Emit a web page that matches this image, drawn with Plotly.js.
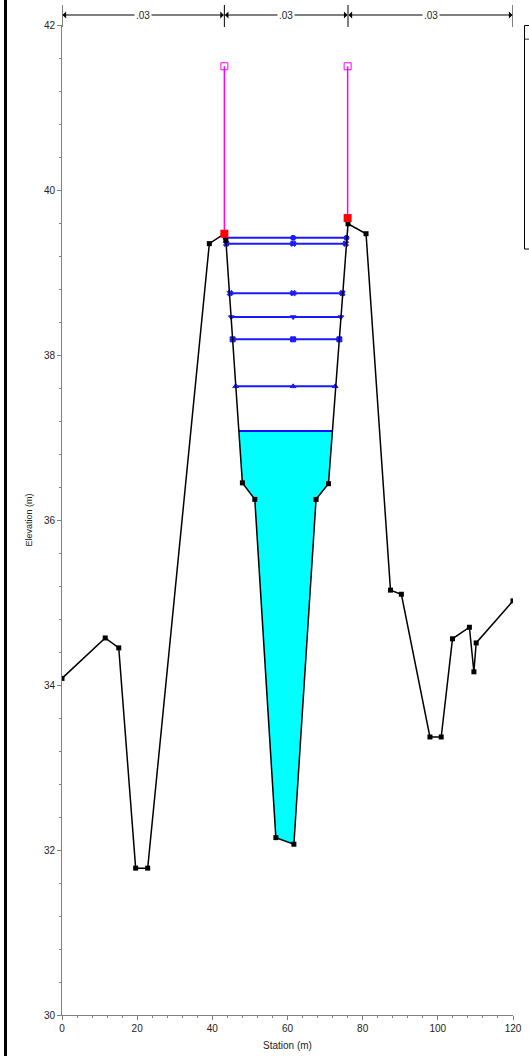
<!DOCTYPE html>
<html>
<head>
<meta charset="utf-8">
<script src="https://cdn.plot.ly/plotly-3.0.1.min.js"></script>
<style>html,body{margin:0;padding:0;background:#fff;}#chart{width:529px;height:1056px;}</style>
</head>
<body>
<div id="chart"></div>
<script>
// Ground profile
const groundStation = [0, 11.5, 15.1, 19.6, 22.8, 39.2, 43.2, 43.6, 48.0, 51.3, 56.9, 61.7, 67.6, 70.9, 76.1, 80.9, 87.4, 90.3, 97.9, 100.9, 103.9, 108.4, 109.6, 110.2, 120];
const groundElev    = [34.08, 34.57, 34.45, 31.78, 31.78, 39.35, 39.47, 39.39, 36.45, 36.25, 32.15, 32.07, 36.25, 36.44, 39.59, 39.47, 35.15, 35.10, 33.37, 33.37, 34.56, 34.70, 34.16, 34.51, 35.02];

// Bank stations
const bankStation = [43.2, 76.0];
const bankElev    = [39.47, 39.66];
const bankTopElev = [41.5, 41.5];

// Water surface profiles (left edge, middle, right edge)
const wsElev   = [39.42, 39.35, 38.75, 38.46, 38.19, 37.62];
const wsLeft   = [43.5, 43.7, 44.7, 45.05, 45.4, 46.2];
const wsMid    = [61.5, 61.5, 61.5, 61.5, 61.5, 61.5];
const wsRight  = [75.7, 75.5, 74.6, 74.2, 73.8, 72.7];
const wsSymbol = ['circle', 'x', 'x', 'triangle-down', 'square', 'triangle-up'];

// Filled water section
const waterStation = [47.1, 48.0, 51.3, 56.9, 61.7, 67.6, 70.9, 71.9, 47.1];
const waterElev    = [37.08, 36.45, 36.25, 32.15, 32.07, 36.25, 36.44, 37.08, 37.08];

// Manning's n
const nBreaks = [0, 43.2, 76.1, 120];
const nLabels = ['.03', '.03', '.03'];

const traces = [];
traces.push({x: waterStation, y: waterElev, mode: 'lines', fill: 'toself', fillcolor: '#00ffff',
  line: {color: 'rgba(0,0,0,0)', width: 0}, hoverinfo: 'skip', showlegend: false});
traces.push({x: [waterStation[0], waterStation[7]], y: [waterElev[0], waterElev[7]], mode: 'lines',
  line: {color: '#1010ff', width: 2}, showlegend: false});
for (let i = 0; i < wsElev.length; i++) {
  traces.push({x: [wsLeft[i], wsMid[i], wsRight[i]], y: [wsElev[i], wsElev[i], wsElev[i]],
    mode: 'lines+markers', line: {color: '#1a1aff', width: 2},
    marker: {symbol: wsSymbol[i], size: 5, color: '#1a1aff', line: {color: '#1a1aff', width: 1}},
    showlegend: false});
}
for (let i = 0; i < bankStation.length; i++) {
  traces.push({x: [bankStation[i], bankStation[i]], y: [bankElev[i], bankTopElev[i]], mode: 'lines',
    line: {color: '#ff00ff', width: 1.5}, showlegend: false});
  traces.push({x: [bankStation[i]], y: [bankTopElev[i]], mode: 'markers',
    marker: {symbol: 'square-open', size: 7, color: '#ff00ff', line: {width: 1}}, showlegend: false});
}
traces.push({x: groundStation, y: groundElev, mode: 'lines+markers',
  line: {color: '#000', width: 1.5}, marker: {symbol: 'square', size: 5, color: '#000'}, showlegend: false});
traces.push({x: bankStation, y: bankElev, mode: 'markers',
  marker: {symbol: 'square', size: 8, color: '#ff0000'}, showlegend: false});

const shapes = [];
const annotations = [];
const barY = 1.0101; // manning line row
for (let i = 0; i < nBreaks.length; i++) {
  shapes.push({type: 'line', xref: 'x', yref: 'paper', x0: nBreaks[i], x1: nBreaks[i], y0: 0.998, y1: 1.0202,
    line: {color: '#000', width: 1}});
}
for (let i = 0; i < nLabels.length; i++) {
  const mid = (nBreaks[i] + nBreaks[i + 1]) / 2;
  [nBreaks[i], nBreaks[i + 1]].forEach(function (b) {
    annotations.push({xref: 'x', yref: 'paper', x: b, y: barY, axref: 'x', ayref: 'pixel', ax: mid, ay: 0,
      text: '', showarrow: true, arrowhead: 1, arrowsize: 1.2, arrowwidth: 1, arrowcolor: '#000', standoff: 0.5});
  });
  annotations.push({xref: 'x', yref: 'paper', x: mid, y: barY, text: nLabels[i], showarrow: false,
    bgcolor: '#fff', font: {family: 'Liberation Sans, Arial, sans-serif', size: 10, color: '#222'},
    borderpad: 1, xanchor: 'center', yanchor: 'middle'});
}
// left thick frame bar
shapes.push({type: 'line', xref: 'paper', yref: 'paper', x0: -0.1253, x1: -0.1253, y0: -0.05, y1: 1.05,
  line: {color: '#000', width: 3}});
// legend box (cut off at the right edge)
shapes.push({type: 'rect', xref: 'paper', yref: 'paper', x0: 1.0255, x1: 1.2, y0: 0.7737, y1: 0.9995,
  line: {color: '#000', width: 1}, fillcolor: 'rgba(0,0,0,0)'});
shapes.push({type: 'line', xref: 'paper', yref: 'paper', x0: 1.0255, x1: 1.2, y0: 0.9857, y1: 0.9857,
  line: {color: '#000', width: 0.8}});

const font = {family: 'Liberation Sans, Arial, sans-serif', size: 10, color: '#222'};
const layout = {
  width: 529, height: 1056,
  margin: {l: 62, r: 16, t: 25, b: 41, autoexpand: false},
  paper_bgcolor: '#fff', plot_bgcolor: '#fff',
  font: font,
  showlegend: false,
  xaxis: {range: [0, 120], dtick: 20, tick0: 0, showgrid: false, zeroline: false,
    showline: true, linecolor: '#808080', linewidth: 1, ticks: 'outside', ticklen: 4, tickcolor: '#808080',
    minor: {dtick: 4, ticks: 'outside', ticklen: 2, tickcolor: '#808080', showgrid: false},
    tickfont: {family: font.family, size: 10, color: '#222'},
    title: {text: 'Station (m)', font: {family: font.family, size: 10, color: '#222'}, standoff: 8}},
  yaxis: {range: [30, 42], dtick: 2, tick0: 30, showgrid: false, zeroline: false,
    showline: true, linecolor: '#808080', linewidth: 1, ticks: 'outside', ticklen: 4, tickcolor: '#808080',
    minor: {dtick: 0.4, ticks: 'outside', ticklen: 2, tickcolor: '#808080', showgrid: false},
    tickfont: {family: font.family, size: 10, color: '#222'},
    title: {text: 'Elevation (m)', font: {family: font.family, size: 9, color: '#222'}, standoff: 9}},
  shapes: shapes,
  annotations: annotations
};
Plotly.newPlot('chart', traces, layout, {displayModeBar: false, staticPlot: true});
</script>
</body>
</html>
